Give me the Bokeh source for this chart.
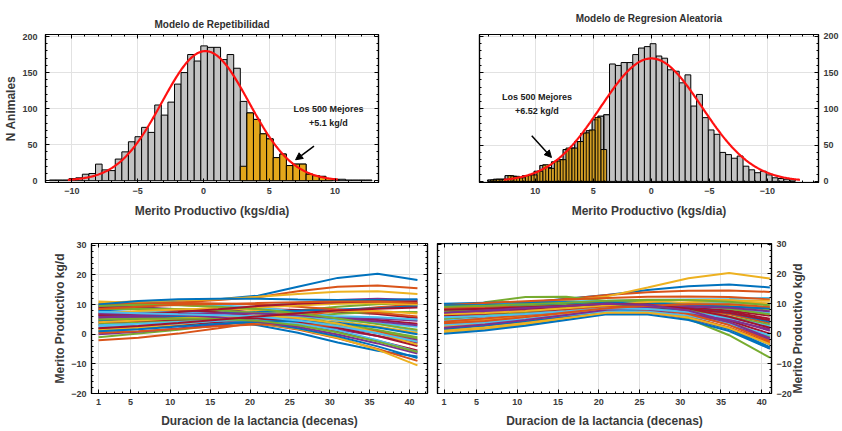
import numpy as np
from bokeh.plotting import figure
from bokeh.layouts import column, row
from bokeh.models import (Range1d, LinearAxis, FixedTicker, Arrow, NormalHead,
                          Label, CustomJSTickFormatter)
from bokeh.embed import file_html
from bokeh.resources import INLINE

FONT = "Liberation Sans"
LINE_COLORS = ["#0072BD", "#D95319", "#EDB120", "#7E2F8E", "#77AC30", "#4DBEEE", "#A2142F"]
GOLD = "#E3A71B"
TEXT_GREY = "#3a3a3a"

# ---------------- Modelo de Repetibilidad: histogram ----------------
rep_bin_start = -11.7
rep_bin_width = 0.5
rep_counts = [1, 1, 1, 3, 4, 9, 10, 23, 15, 14,
              30, 40, 54, 61, 74, 67, 105, 91, 109, 134,
              150, 175, 166, 187, 185, 185, 168, 175, 156, 110,
              94, 85, 65, 58, 32, 37, 21, 23, 23, 9,
              7, 6, 3, 2, 2, 1, 1, 1, 1]
rep_best_start = 2.8
rep_best_counts = [20, 94, 85, 65, 58, 32, 37, 21, 23, 23, 9, 7, 6, 3]
rep_fit_mean = 0.15
rep_fit_sd = 3.3
rep_fit_span = (-10.3, 10.2)

# ---------------- Modelo de Regresion Aleatoria: histogram ----------------
rr_bin_start = -12.4
rr_bin_width = 0.5
rr_counts = [2, 3, 4, 5, 9, 14, 12, 16, 21, 35,
             32, 37, 40, 65, 71, 88, 120, 104, 147, 136,
             152, 154, 170, 173, 190, 186, 184, 175, 164, 164,
             160, 162, 92, 90, 85, 70, 66, 55, 46, 44,
             30, 27, 19, 22, 14, 9, 8, 5, 7, 8,
             3, 3, 2]
rr_best_start = 3.85
rr_best_counts = [44, 88, 71, 67, 55, 46, 46, 30, 28, 18,
                  23, 14, 9, 8, 5, 7, 8, 3, 3, 2]
rr_fit_mean = 0.0
rr_fit_sd = 4.35
rr_fit_span = (-12.8, 12.7)

# ---------------- lactation curves (merit per tenth of lactation) ----------------
days = [1, 6, 11, 16, 21, 26, 31, 36, 41]
rep_curves = [
    [9.0, 10.6, 11.3, 11.8, 13.0, 16.0, 19.0, 20.4, 18.3],
    [8.0, 9.6, 10.7, 11.5, 12.5, 14.5, 16.0, 16.4, 15.5],
    [10.5, 11.1, 11.4, 11.8, 12.6, 13.6, 14.3, 14.5, 13.6],
    [3.0, 4.2, 5.6, 7.2, 9.0, 10.5, 11.5, 12.0, 11.5],
    [1.0, 1.8, 3.0, 4.7, 6.5, 8.0, 9.3, 10.1, 10.5],
    [5.0, 5.8, 6.8, 8.1, 9.5, 10.6, 11.3, 11.5, 11.0],
    [7.0, 7.4, 7.8, 8.2, 8.5, 8.2, 7.6, 6.8, 5.5],
    [8.0, 7.4, 6.4, 4.9, 3.0, 0.5, -2.8, -5.6, -7.5],
    [6.5, 6.3, 5.8, 4.9, 3.6, 1.6, -1.4, -5.0, -9.0],
    [5.0, 5.1, 5.0, 4.6, 3.7, 1.8, -1.2, -5.2, -10.5],
    [9.5, 9.1, 8.4, 7.3, 6.0, 3.8, 1.6, -0.6, -3.0],
    [-1.0, 0.2, 1.5, 3.0, 4.5, 5.9, 6.9, 7.5, 7.5],
    [10.0, 10.4, 10.3, 9.8, 9.0, 7.6, 5.8, 3.6, 1.0],
    [2.0, 2.4, 3.1, 4.0, 5.0, 5.5, 5.4, 4.8, 3.5],
    [6.0, 6.1, 5.9, 5.2, 4.0, 2.0, -0.7, -4.1, -8.0],
    [-2.0, -1.2, 0.2, 2.0, 4.0, 6.1, 7.8, 9.1, 10.0],
    [11.0, 10.6, 9.9, 9.0, 8.0, 6.3, 4.5, 2.6, 0.5],
    [0.0, 0.8, 1.9, 3.2, 4.5, 5.3, 5.6, 5.3, 4.5],
    [3.5, 4.0, 4.6, 5.0, 5.1, 4.5, 3.0, 1.0, -1.5],
    [7.5, 7.5, 7.5, 7.3, 7.0, 6.0, 4.9, 3.7, 2.5],
    [9.0, 8.8, 8.3, 7.4, 6.0, 3.8, 1.0, -2.2, -5.5],
    [4.5, 5.3, 6.1, 6.9, 7.5, 7.9, 8.3, 8.8, 9.5],
    [10.0, 10.4, 10.6, 10.4, 10.0, 9.3, 8.3, 7.2, 6.0],
    [1.5, 2.3, 3.4, 4.7, 6.0, 7.1, 7.8, 7.8, 7.0],
    [6.0, 5.8, 5.5, 5.1, 4.5, 3.6, 2.3, 0.4, -2.0],
    [8.5, 8.6, 8.5, 8.1, 7.2, 5.8, 3.7, 1.4, -1.0],
    [2.5, 2.9, 3.6, 4.5, 5.5, 6.0, 6.1, 5.7, 5.0],
    [4.0, 4.5, 5.0, 5.3, 5.2, 4.2, 2.2, -0.6, -4.0],
    [10.0, 11.2, 11.8, 12.0, 12.0, 11.7, 11.5, 11.5, 11.8],
    [0.5, 1.0, 1.8, 2.7, 3.3, 3.4, 2.7, 0.8, -2.5],
    [7.0, 7.8, 8.3, 8.7, 9.0, 9.7, 10.3, 10.5, 10.0],
    [5.5, 6.3, 6.8, 7.0, 7.0, 6.4, 5.4, 4.3, 3.0],
    [9.5, 9.9, 9.8, 9.3, 8.5, 7.1, 5.3, 3.4, 1.5],
    [3.0, 3.5, 4.1, 4.6, 4.6, 3.5, 1.3, -2.0, -6.0],
    [6.5, 6.9, 7.5, 8.4, 9.5, 10.3, 10.8, 11.0, 11.0],
    [1.0, 1.7, 2.6, 3.5, 4.2, 4.5, 3.9, 2.3, 0.0],
    [8.5, 9.3, 9.9, 10.2, 10.5, 10.8, 11.0, 11.0, 10.5],
    [4.0, 4.6, 5.4, 6.0, 6.2, 5.5, 3.6, 0.4, -3.5],
    [7.0, 6.9, 6.5, 5.7, 4.4, 2.5, -0.1, -3.1, -6.5],
    [5.0, 5.2, 5.3, 5.1, 4.5, 3.0, 0.6, -2.5, -6.0],
    [7.5, 7.1, 6.7, 6.4, 6.0, 4.6, 2.8, 0.3, -2.5],
    [2.0, 2.8, 3.8, 4.9, 6.0, 7.1, 8.0, 8.6, 9.0],
]
rr_curves = [
    [8.0, 9.2, 10.4, 11.7, 13.0, 14.6, 15.9, 16.5, 15.5],
    [7.0, 8.5, 10.0, 11.6, 13.0, 13.9, 14.4, 14.5, 14.0],
    [9.0, 9.8, 10.3, 11.0, 12.5, 15.5, 18.6, 20.3, 18.5],
    [1.0, 1.8, 3.2, 5.0, 6.8, 7.0, 5.2, 1.6, -5.0],
    [7.0, 10.5, 12.3, 12.4, 11.0, 8.8, 5.0, -0.5, -8.0],
    [9.0, 9.8, 10.4, 10.8, 11.0, 11.3, 11.5, 11.6, 12.0],
    [5.0, 5.8, 7.0, 8.1, 9.0, 9.4, 9.0, 7.5, 5.0],
    [10.0, 10.4, 10.6, 10.5, 10.0, 8.3, 5.6, 1.6, -4.5],
    [3.0, 4.2, 5.6, 6.9, 8.0, 8.5, 8.0, 6.5, 3.5],
    [0.5, 1.6, 3.2, 5.1, 7.0, 8.6, 9.6, 10.1, 10.0],
    [6.0, 7.2, 8.3, 9.1, 9.5, 9.1, 7.6, 4.9, 1.0],
    [4.0, 4.9, 6.0, 7.3, 8.5, 8.5, 7.0, 3.8, -1.0],
    [8.5, 8.9, 9.3, 9.7, 10.0, 9.8, 9.2, 8.3, 7.0],
    [2.0, 2.8, 4.1, 5.8, 7.5, 8.5, 8.6, 7.8, 6.0],
    [6.5, 6.9, 7.4, 8.0, 8.5, 7.8, 5.6, 1.9, -3.5],
    [9.5, 10.3, 10.9, 11.5, 12.0, 12.4, 12.5, 12.3, 11.5],
    [3.5, 4.7, 6.0, 7.3, 8.5, 9.3, 9.6, 9.4, 8.5],
    [5.5, 6.3, 7.2, 8.1, 9.0, 8.7, 6.9, 3.4, -2.0],
    [8.0, 8.7, 9.3, 9.9, 10.5, 10.6, 10.2, 9.3, 8.0],
    [4.5, 5.3, 6.4, 7.7, 9.0, 9.9, 10.4, 10.5, 10.0],
    [7.5, 7.9, 8.4, 9.0, 9.5, 9.0, 7.3, 4.4, 0.0],
    [1.5, 2.7, 4.2, 5.9, 7.5, 8.4, 8.4, 7.0, 4.0],
    [8.5, 8.8, 9.0, 9.1, 9.0, 7.9, 5.7, 2.1, -3.0],
    [2.5, 3.3, 4.8, 6.4, 8.0, 9.5, 10.5, 11.0, 11.0],
    [7.0, 7.4, 7.8, 8.2, 8.5, 8.1, 6.8, 4.6, 1.5],
    [5.0, 6.1, 7.3, 8.5, 9.5, 9.9, 9.6, 8.4, 6.5],
    [3.0, 3.8, 4.9, 6.2, 7.5, 7.4, 6.0, 3.3, -0.5],
    [6.0, 6.8, 7.6, 8.3, 9.0, 9.0, 8.4, 7.0, 4.5],
    [9.5, 9.6, 9.9, 10.2, 10.5, 10.2, 9.6, 9.0, 8.5],
    [4.0, 5.1, 6.3, 7.7, 9.0, 8.6, 6.6, 2.9, -2.5],
    [6.5, 6.9, 7.6, 8.5, 9.5, 10.6, 11.3, 11.3, 10.0],
    [2.0, 3.1, 4.6, 6.3, 8.0, 8.8, 9.1, 8.7, 7.5],
    [7.5, 8.3, 8.9, 9.5, 10.0, 9.6, 8.0, 5.8, 3.0],
    [5.5, 5.9, 6.6, 7.5, 8.5, 8.3, 7.3, 5.3, 2.5],
    [8.0, 8.4, 8.9, 9.4, 10.0, 9.8, 8.4, 5.7, 2.0],
    [0.0, 1.1, 2.7, 4.6, 6.5, 6.4, 4.6, 0.9, -5.0],
    [3.5, 4.3, 5.6, 7.1, 8.5, 9.4, 9.9, 9.9, 9.0],
    [1.0, 2.1, 3.6, 5.3, 7.0, 7.0, 5.4, 1.9, -3.5],
    [7.0, 7.8, 8.6, 9.3, 10.0, 9.6, 7.8, 3.9, -1.5],
    [9.0, 9.4, 9.9, 10.4, 11.0, 11.4, 11.3, 10.7, 9.5],
]

hist_xticks = FixedTicker(ticks=[-10, -5, 0, 5, 10], minor_ticks=list(range(-15, 16)))
hist_yticks = FixedTicker(ticks=[0, 50, 100, 150, 200], minor_ticks=list(range(0, 210, 10)))
lact_xticks = FixedTicker(ticks=[1, 5, 10, 15, 20, 25, 30, 35, 40], minor_ticks=list(range(1, 43)))
lact_yticks = FixedTicker(ticks=[-20, -10, 0, 10, 20, 30], minor_ticks=list(range(-20, 31, 2)))


def style_axis(ax, show_labels):
    ax.major_tick_in = 4
    ax.major_tick_out = 0
    ax.minor_tick_in = 2
    ax.minor_tick_out = 0
    ax.axis_line_color = "black"
    ax.axis_line_width = 1.2
    ax.major_tick_line_color = "black"
    ax.minor_tick_line_color = "black"
    ax.major_label_text_font = FONT
    ax.major_label_text_font_size = "9px"
    ax.major_label_text_font_style = "bold"
    ax.major_label_text_color = TEXT_GREY
    ax.major_label_standoff = 5
    ax.axis_label_text_font = FONT
    ax.axis_label_text_font_size = "12px"
    ax.axis_label_text_font_style = "bold"
    ax.axis_label_text_color = TEXT_GREY
    if not show_labels:
        ax.formatter = CustomJSTickFormatter(code="return ''")
        ax.major_label_standoff = 0


def make_panel(width, height, xr, yr, xticks, yticks, y_side, borders):
    left, right, top, bottom = borders
    p = figure(width=width, height=height, x_range=xr, y_range=yr,
               x_axis_location="below", y_axis_location=y_side,
               output_backend="svg", toolbar_location=None,
               min_border_left=left, min_border_right=right,
               min_border_top=top, min_border_bottom=bottom)
    p.background_fill_color = "white"
    p.border_fill_color = "white"
    p.outline_line_color = "black"
    p.outline_line_width = 1.2
    p.xaxis.ticker = xticks
    p.yaxis.ticker = yticks
    for ax in list(p.xaxis) + list(p.yaxis):
        style_axis(ax, True)
    top_ax = LinearAxis(ticker=xticks)
    style_axis(top_ax, False)
    p.add_layout(top_ax, "above")
    side_ax = LinearAxis(ticker=yticks)
    style_axis(side_ax, False)
    p.add_layout(side_ax, "left" if y_side == "right" else "right")
    p.grid.grid_line_color = "#e2e2e2"
    p.grid.grid_line_width = 1
    return p


def label_axis(ax, text, standoff):
    ax.axis_label = text
    ax.axis_label_standoff = standoff


def set_title(p, text, standoff):
    p.title.text = text
    p.title.align = "center"
    p.title.text_font = FONT
    p.title.text_font_size = "10px"
    p.title.text_font_style = "bold"
    p.title.text_color = "#303030"
    p.title.standoff = standoff


def bin_edges(start, width, n):
    left = [start + i * width for i in range(n)]
    return left, [x + width for x in left]


def normal_fit(counts, width, mean, sd, span):
    fx = np.linspace(span[0], span[1], 300)
    scale = sum(counts) * width / (sd * np.sqrt(2 * np.pi))
    return fx, scale * np.exp(-0.5 * ((fx - mean) / sd) ** 2)


def annotate(p, x, y1, y2, gain, arrow):
    for yy, txt in ((y1, "Los 500 Mejores"), (y2, gain)):
        p.add_layout(Label(x=x, y=yy, text=txt, text_align="center", text_baseline="middle",
                           text_font=FONT, text_font_size="9px", text_font_style="bold",
                           text_color="#202020"))
    x0, y0, x1, y1a = arrow
    p.add_layout(Arrow(end=NormalHead(size=7, fill_color="black", line_color="black"),
                       x_start=x0, y_start=y0, x_end=x1, y_end=y1a,
                       line_color="black", line_width=1.5))


# ---- top left: repeatability model ----
tl = make_panel(420, 220, Range1d(-12.0, 13.3), Range1d(-2.5, 202.8),
                hist_xticks, hist_yticks, "left", (45, 42, 33, 38))
set_title(tl, "Modelo de Repetibilidad", 9)
label_axis(tl.below[0], "Merito Productivo (kgs/dia)", 7)
label_axis(tl.left[0], "N Animales", 1)
tl.left[0].major_label_standoff = 8
l, r = bin_edges(rep_bin_start, rep_bin_width, len(rep_counts))
tl.quad(left=l, right=r, bottom=0, top=rep_counts, fill_color="#c2c2c2",
        line_color="black", line_width=1)
l, r = bin_edges(rep_best_start, rep_bin_width, len(rep_best_counts))
tl.quad(left=l, right=r, bottom=0, top=rep_best_counts, fill_color=GOLD,
        line_color="black", line_width=1)
fx, fy = normal_fit(rep_counts, rep_bin_width, rep_fit_mean, rep_fit_sd, rep_fit_span)
tl.line(fx, fy, line_color="#ff1010", line_width=2.2)
annotate(tl, 9.5, 100, 80, "+5.1 kg/d", (8.4, 48, 7.0, 29))

# ---- top right: random regression model (reversed axis) ----
tr = make_panel(422, 220, Range1d(14.8, -14.4), Range1d(-1.5, 202.7),
                hist_xticks, hist_yticks, "right", (59, 24, 33, 38))
set_title(tr, "Modelo de Regresion Aleatoria", 21)
label_axis(tr.below[0], "Merito Productivo (kgs/dia)", 7)
l, r = bin_edges(rr_bin_start, rr_bin_width, len(rr_counts))
tr.quad(left=l, right=r, bottom=0, top=rr_counts, fill_color="#c2c2c2",
        line_color="black", line_width=1)
gl, gr = bin_edges(rr_best_start, rr_bin_width, len(rr_best_counts))
tr.quad(left=gl, right=gr, bottom=0, top=rr_best_counts, fill_color=GOLD, fill_alpha=0.95,
        line_color="black", line_width=1)
# all-animal bars seen through the selected group
over = [i for i, x in enumerate(l) if x >= rr_best_start - rr_bin_width]
tr.quad(left=[l[i] for i in over], right=[r[i] for i in over], bottom=0,
        top=[rr_counts[i] for i in over], fill_color="#303030", fill_alpha=0.08,
        line_color="black", line_width=1, line_alpha=0.5)
fx, fy = normal_fit(rr_counts, rr_bin_width, rr_fit_mean, rr_fit_sd, rr_fit_span)
tr.line(fx, fy, line_color="#ff1010", line_width=2.2)
annotate(tr, 9.85, 117, 97, "+6.52 kg/d", (10.3, 63, 8.6, 33))

# ---- bottom left: repeatability lactation curves ----
bl = make_panel(432, 211, Range1d(0.12, 42.26), Range1d(-20, 30.6),
                lact_xticks, lact_yticks, "left", (91, 5, 23, 38))
label_axis(bl.below[0], "Duracion de la lactancia (decenas)", 6)
label_axis(bl.left[0], "Merito Productivo kg/d", 1)
bl.multi_line(xs=[days] * len(rep_curves), ys=rep_curves,
              line_color=[LINE_COLORS[i % 7] for i in range(len(rep_curves))], line_width=2)

# ---- bottom right: random regression lactation curves ----
br = make_panel(410, 211, Range1d(0.2, 41.2), Range1d(-20, 30.2),
                lact_xticks, lact_yticks, "right", (5, 71, 23, 38))
label_axis(br.below[0], "Duracion de la lactancia (decenas)", 6)
label_axis(br.right[0], "Merito Productivo kg/d", 3)
# read the right-hand label from bottom to top, like the left one,
# starting it from the lower end of the axis
br.right[0].axis_label_orientation = np.pi / 2
try:
    br.right[0].axis_label_align = "start"
except AttributeError:
    pass
br.multi_line(xs=[days] * len(rr_curves), ys=rr_curves,
              line_color=[LINE_COLORS[i % 7] for i in range(len(rr_curves))], line_width=2)

layout = column(row(tl, tr, spacing=0), row(bl, br, spacing=0), spacing=0)
open("out.html", "w").write(file_html(layout, INLINE))
